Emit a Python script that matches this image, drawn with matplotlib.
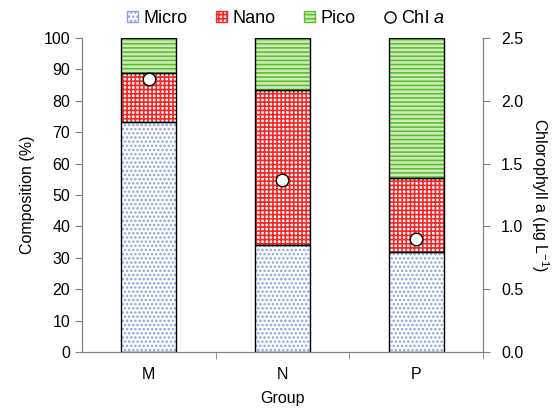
import numpy as np
import matplotlib
matplotlib.use("Agg")
import matplotlib.pyplot as plt
from matplotlib.patches import Patch
from matplotlib.lines import Line2D

plt.rcParams['font.family'] = ['Liberation Sans', 'DejaVu Sans']
plt.rcParams['font.size'] = 11.5
plt.rcParams['mathtext.fontset'] = 'custom'
plt.rcParams['mathtext.rm'] = 'Liberation Sans'
plt.rcParams['mathtext.it'] = 'Liberation Sans:italic'
plt.rcParams['hatch.linewidth'] = 1.2

groups = ["M", "N", "P"]
micro = [73.3, 34.2, 32.0]
nano = [15.6, 49.2, 23.3]
pico = [11.1, 16.6, 44.7]
chl_a = [2.17, 1.37, 0.90]

x = np.arange(len(groups))
width = 0.41

fig = plt.figure(figsize=(5.6, 4.09), dpi=100)
ax = fig.add_axes([0.1464, 0.1394, 0.716, 0.7676])

styles = [
    ("Micro", micro, "white", "#8aa2dc", "...."),
    ("Nano", nano, "white", "#f02828", "++++"),
    ("Pico", pico, "#cfeabd", "#5cc02c", "----"),
]

bottom = np.zeros(len(groups))
handles = []
for name, vals, fc, hc, hatch in styles:
    # hatched fill first, then a plain black outline on top
    ax.bar(x, vals, width, bottom=bottom, color=fc, edgecolor=hc,
           hatch=hatch, linewidth=0, zorder=2)
    ax.bar(x, vals, width, bottom=bottom, fill=False, edgecolor="black",
           linewidth=1.0, zorder=3)
    bottom += np.array(vals)
    handles.append(Patch(facecolor=fc, edgecolor=hc, hatch=hatch, label=name))

ax.set_xlim(-0.5, 2.5)
ax.set_ylim(0, 100)
ax.set_yticks(np.arange(0, 101, 10))
ax.set_xticks(x)
ax.set_xticklabels(groups)
ax.tick_params(axis="x", length=0, pad=11)
ax.set_xticks([0.5, 1.5, 2.5], minor=True)
ax.tick_params(axis="x", which="minor", length=5, color="#808080")
ax.tick_params(axis="y", length=5, color="#808080")
ax.set_ylabel("Composition (%)", labelpad=6)
ax.set_xlabel("Group", labelpad=6)

ax2 = ax.twinx()
ax2.set_ylim(0, 2.5)
ax2.set_yticks(np.arange(0, 2.51, 0.5))
ax2.yaxis.set_major_formatter(matplotlib.ticker.FormatStrFormatter("%.1f"))
ax2.plot(x, chl_a, "o", ms=9, mfc="white", mec="black", mew=1.0, zorder=5)
ax2.tick_params(axis="y", length=5, color="#808080", pad=8)
ax2.set_ylabel("Chlorophyll a (\u00b5g L$^{-1}$)", rotation=-90, labelpad=20)

for a in (ax, ax2):
    a.spines["top"].set_visible(False)
    for side in ("left", "right", "bottom"):
        a.spines[side].set_color("#808080")

handles.append(Line2D([], [], marker="o", ls="none", ms=8, mfc="white",
                      mec="black", label=r"Chl $\mathit{a}$"))
fig.legend(handles=handles, loc="center", bbox_to_anchor=(0.51, 0.955), ncol=4,
           frameon=False, handlelength=0.6, handleheight=0.6, handletextpad=0.3,
           columnspacing=1.6, fontsize=13)

fig.savefig("out.png", dpi=100)
